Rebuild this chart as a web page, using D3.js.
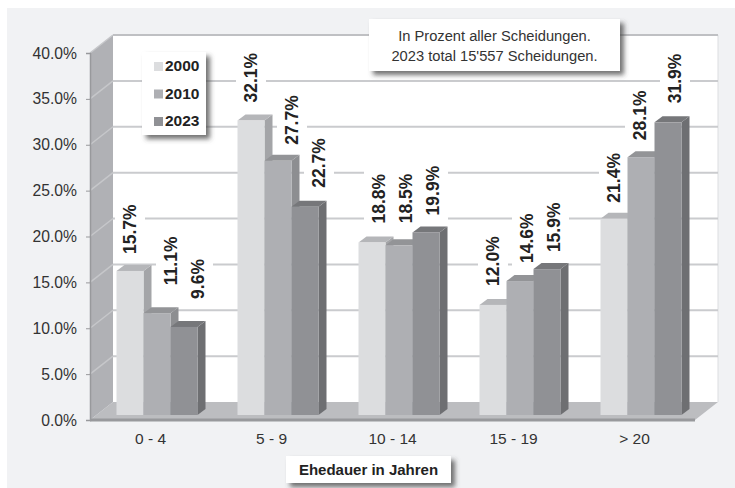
<!DOCTYPE html>
<html>
<head>
<meta charset="utf-8">
<script src="https://cdnjs.cloudflare.com/ajax/libs/d3/7.8.5/d3.min.js"></script>
<style>
  html, body { margin: 0; padding: 0; background: #fff; }
  svg { display: block; }
  text { font-family: "Liberation Sans", Arial, sans-serif; }
</style>
</head>
<body>
<div id="chart"></div>
<script>
(function(d3) {
  'use strict';

  var categories = ['0 - 4', '5 - 9', '10 - 14', '15 - 19', '> 20'];
  var years = ['2000', '2010', '2023'];
  var values2000 = [15.7, 32.1, 18.8, 12.0, 21.4];
  var values2010 = [11.1, 27.7, 18.5, 14.6, 28.1];
  var values2023 = [9.6, 22.7, 19.9, 15.9, 31.9];
  var yTicks = [0, 5, 10, 15, 20, 25, 30, 35, 40];

  // hand placement of the value labels, one row per year
  var labelDx = [[0, 0, 7, 0, 0], [14, 14, 7, 7, -1], [14, 14, 7, 7, 7]];
  var labelGap = [[17, 18, 19, 19, 16], [28, 16, 22, 18, 17], [28, 19, 17, 17, 19]];

  var width = 735;
  var height = 488;

  // 3d offset of the back wall, and of a single bar
  var wallDx = 23;
  var wallDy = 18;
  var barW = 27;
  var barDx = 8;
  var barDy = 6;
  var barLift = 5;

  var front = ['#dcdddf', '#aeafb3', '#909195'];
  var top = ['#b5b6b9', '#939497', '#76777a'];
  var side = ['#a4a5a8', '#8d8e91', '#6e6f72'];

  var svg = d3.select('#chart')
    .append('svg')
    .attr('width', width)
    .attr('height', height);

  var defs = svg.append('defs');
  var shadow = defs.append('filter')
    .attr('id', 'shadow')
    .attr('x', '-20%').attr('y', '-20%')
    .attr('width', '150%').attr('height', '150%');
  shadow.append('feDropShadow')
    .attr('dx', 4).attr('dy', 4)
    .attr('stdDeviation', 2.5)
    .attr('flood-color', '#444')
    .attr('flood-opacity', 0.75);

  var x = d3.scaleBand().domain(categories).range([90, 695]);
  var y = d3.scaleLinear().domain([0, 40]).range([420, 53]);

  function poly(points) {
    return d3.line()(points) + 'Z';
  }

  // panel
  svg.append('rect')
    .attr('x', 7).attr('y', 8)
    .attr('width', width - 7).attr('height', height - 8)
    .attr('fill', '#f1f2f4');

  // back wall
  var x0 = x.range()[0];
  var x1 = x.range()[1];
  svg.append('rect')
    .attr('x', x0 + wallDx).attr('y', y(40) - wallDy)
    .attr('width', x1 - x0).attr('height', y(0) - y(40))
    .attr('fill', '#fff');
  svg.append('line')
    .attr('x1', x1 + wallDx).attr('x2', x1 + wallDx)
    .attr('y1', y(40) - wallDy).attr('y2', y(0) - wallDy)
    .attr('stroke', '#dcdde0').attr('stroke-width', 1);

  svg.selectAll('.grid')
    .data(yTicks.filter(function(d) { return d > 0; }))
    .enter()
    .append('line')
    .attr('class', 'grid')
    .attr('x1', x0 + wallDx)
    .attr('x2', x1 + wallDx)
    .attr('y1', function(d) { return y(d) - wallDy; })
    .attr('y2', function(d) { return y(d) - wallDy; })
    .attr('stroke', function(d) { return d === 40 ? '#bfc0c3' : '#cacbce'; })
    .attr('stroke-width', 2);

  // left wall
  svg.append('path')
    .attr('d', poly([[x0, y(40)], [x0 + wallDx, y(40) - wallDy], [x0 + wallDx, y(0) - wallDy], [x0, y(0)]]))
    .attr('fill', '#b0b1b5');
  svg.selectAll('.wallgrid')
    .data(yTicks.filter(function(d) { return d > 0; }))
    .enter()
    .append('line')
    .attr('class', 'wallgrid')
    .attr('x1', x0)
    .attr('x2', x0 + wallDx)
    .attr('y1', function(d) { return y(d); })
    .attr('y2', function(d) { return y(d) - wallDy; })
    .attr('stroke', '#c6c7ca')
    .attr('stroke-width', 1.5);

  // floor
  svg.append('path')
    .attr('d', poly([[x0, y(0)], [x0 + wallDx, y(0) - wallDy], [x1 + wallDx, y(0) - wallDy], [x1, y(0)]]))
    .attr('fill', '#bcbdc0');
  svg.append('line')
    .attr('x1', x0).attr('x2', x1)
    .attr('y1', y(0)).attr('y2', y(0))
    .attr('stroke', '#98999c').attr('stroke-width', 3);

  // axes
  var yAxis = d3.axisLeft(y)
    .tickValues(yTicks)
    .tickSize(4)
    .tickPadding(9)
    .tickFormat(function(d) { return d3.format('.1f')(d) + '%'; });

  var yG = svg.append('g')
    .attr('transform', 'translate(' + x0 + ',0)')
    .call(yAxis);
  yG.select('.domain').attr('stroke', '#98999c').attr('stroke-width', 1.5);
  yG.selectAll('.tick line').attr('stroke', '#98999c');
  yG.selectAll('text')
    .attr('fill', '#333')
    .style('font-size', '15.7px');

  var xAxis = d3.axisBottom(x).tickSize(0).tickPadding(13);
  var xG = svg.append('g')
    .attr('transform', 'translate(0,' + y(0) + ')')
    .call(xAxis);
  xG.select('.domain').remove();
  xG.selectAll('text')
    .attr('fill', '#333')
    .style('font-size', '15.5px');

  // bars
  var series = [values2000, values2010, values2023];
  var rows = [];
  categories.forEach(function(cat, c) {
    years.forEach(function(year, s) {
      rows.push({ cat: cat, c: c, s: s, value: series[s][c] });
    });
  });

  function barLeft(d) {
    return x(d.cat) + x.bandwidth() / 2 - barW * 1.5 + wallDx / 2 - 5 + d.s * barW;
  }
  function barTop(d) {
    return y(d.value) - barLift;
  }

  // white patch behind a label hides the gridlines
  var labelSize = 17.5;
  svg.selectAll('.labelbg')
    .data(rows)
    .enter()
    .append('rect')
    .attr('class', 'labelbg')
    .attr('x', function(d) { return barLeft(d) + barW / 2 + labelDx[d.s][d.c] - 15; })
    .attr('y', function(d) { return barTop(d) - labelGap[d.s][d.c] - 58; })
    .attr('width', 30)
    .attr('height', 66)
    .attr('fill', '#fff');

  var bars = svg.selectAll('.bar')
    .data(rows)
    .enter()
    .append('g')
    .attr('class', 'bar');

  bars.append('path')
    .attr('fill', function(d) { return side[d.s]; })
    .attr('d', function(d) {
      var l = barLeft(d) + barW;
      return poly([[l, barTop(d)], [l + barDx, barTop(d) - barDy], [l + barDx, y(0) - barLift - barDy], [l, y(0) - barLift]]);
    });
  bars.append('path')
    .attr('fill', function(d) { return top[d.s]; })
    .attr('d', function(d) {
      var l = barLeft(d);
      var t = barTop(d);
      return poly([[l, t], [l + barDx, t - barDy], [l + barW + barDx, t - barDy], [l + barW, t]]);
    });
  bars.append('rect')
    .attr('fill', function(d) { return front[d.s]; })
    .attr('x', barLeft)
    .attr('y', barTop)
    .attr('width', barW)
    .attr('height', function(d) { return y(0) - barLift - barTop(d); });

  // value labels
  svg.selectAll('.value')
    .data(rows)
    .enter()
    .append('text')
    .attr('class', 'value')
    .attr('transform', function(d) {
      var lx = barLeft(d) + barW / 2 + labelDx[d.s][d.c];
      var ly = barTop(d) - labelGap[d.s][d.c];
      return 'translate(' + lx + ',' + ly + ') rotate(-90)';
    })
    .attr('dy', '.35em')
    .attr('fill', '#222')
    .style('font-size', labelSize + 'px')
    .style('font-weight', 'bold')
    .text(function(d) { return d3.format('.1f')(d.value) + '%'; });

  // legend
  var legend = svg.append('g');
  legend.append('rect')
    .attr('x', 142).attr('y', 52)
    .attr('width', 64).attr('height', 83)
    .attr('fill', '#fff')
    .attr('filter', 'url(#shadow)');

  var legendItem = legend.selectAll('.legend')
    .data(years)
    .enter()
    .append('g')
    .attr('class', 'legend')
    .attr('transform', function(d, i) {
      return 'translate(154,' + (62 + i * 27.5) + ')';
    });
  legendItem.append('rect')
    .attr('width', 9)
    .attr('height', 9)
    .attr('fill', function(d, i) { return front[i]; });
  legendItem.append('text')
    .attr('x', 11)
    .attr('y', 9)
    .attr('fill', '#222')
    .style('font-size', '15.5px')
    .style('font-weight', 'bold')
    .text(function(d) { return d; });

  // note box
  var noteLines = ['In Prozent aller Scheidungen.', "2023 total 15'557 Scheidungen."];
  svg.append('rect')
    .attr('x', 369).attr('y', 19)
    .attr('width', 251).attr('height', 52)
    .attr('fill', '#fff')
    .attr('filter', 'url(#shadow)');
  svg.selectAll('.note')
    .data(noteLines)
    .enter()
    .append('text')
    .attr('class', 'note')
    .attr('x', 494.5)
    .attr('y', function(d, i) { return 41 + i * 20; })
    .attr('text-anchor', 'middle')
    .attr('fill', '#333')
    .style('font-size', '14.7px')
    .text(function(d) { return d; });

  // axis title
  svg.append('rect')
    .attr('x', 286).attr('y', 456)
    .attr('width', 165).attr('height', 27)
    .attr('fill', '#fff')
    .attr('filter', 'url(#shadow)');
  svg.append('text')
    .attr('x', 368.5)
    .attr('y', 475)
    .attr('text-anchor', 'middle')
    .attr('fill', '#222')
    .style('font-size', '15px')
    .style('font-weight', 'bold')
    .text('Ehedauer in Jahren');

})(window.d3);
</script>
</body>
</html>
